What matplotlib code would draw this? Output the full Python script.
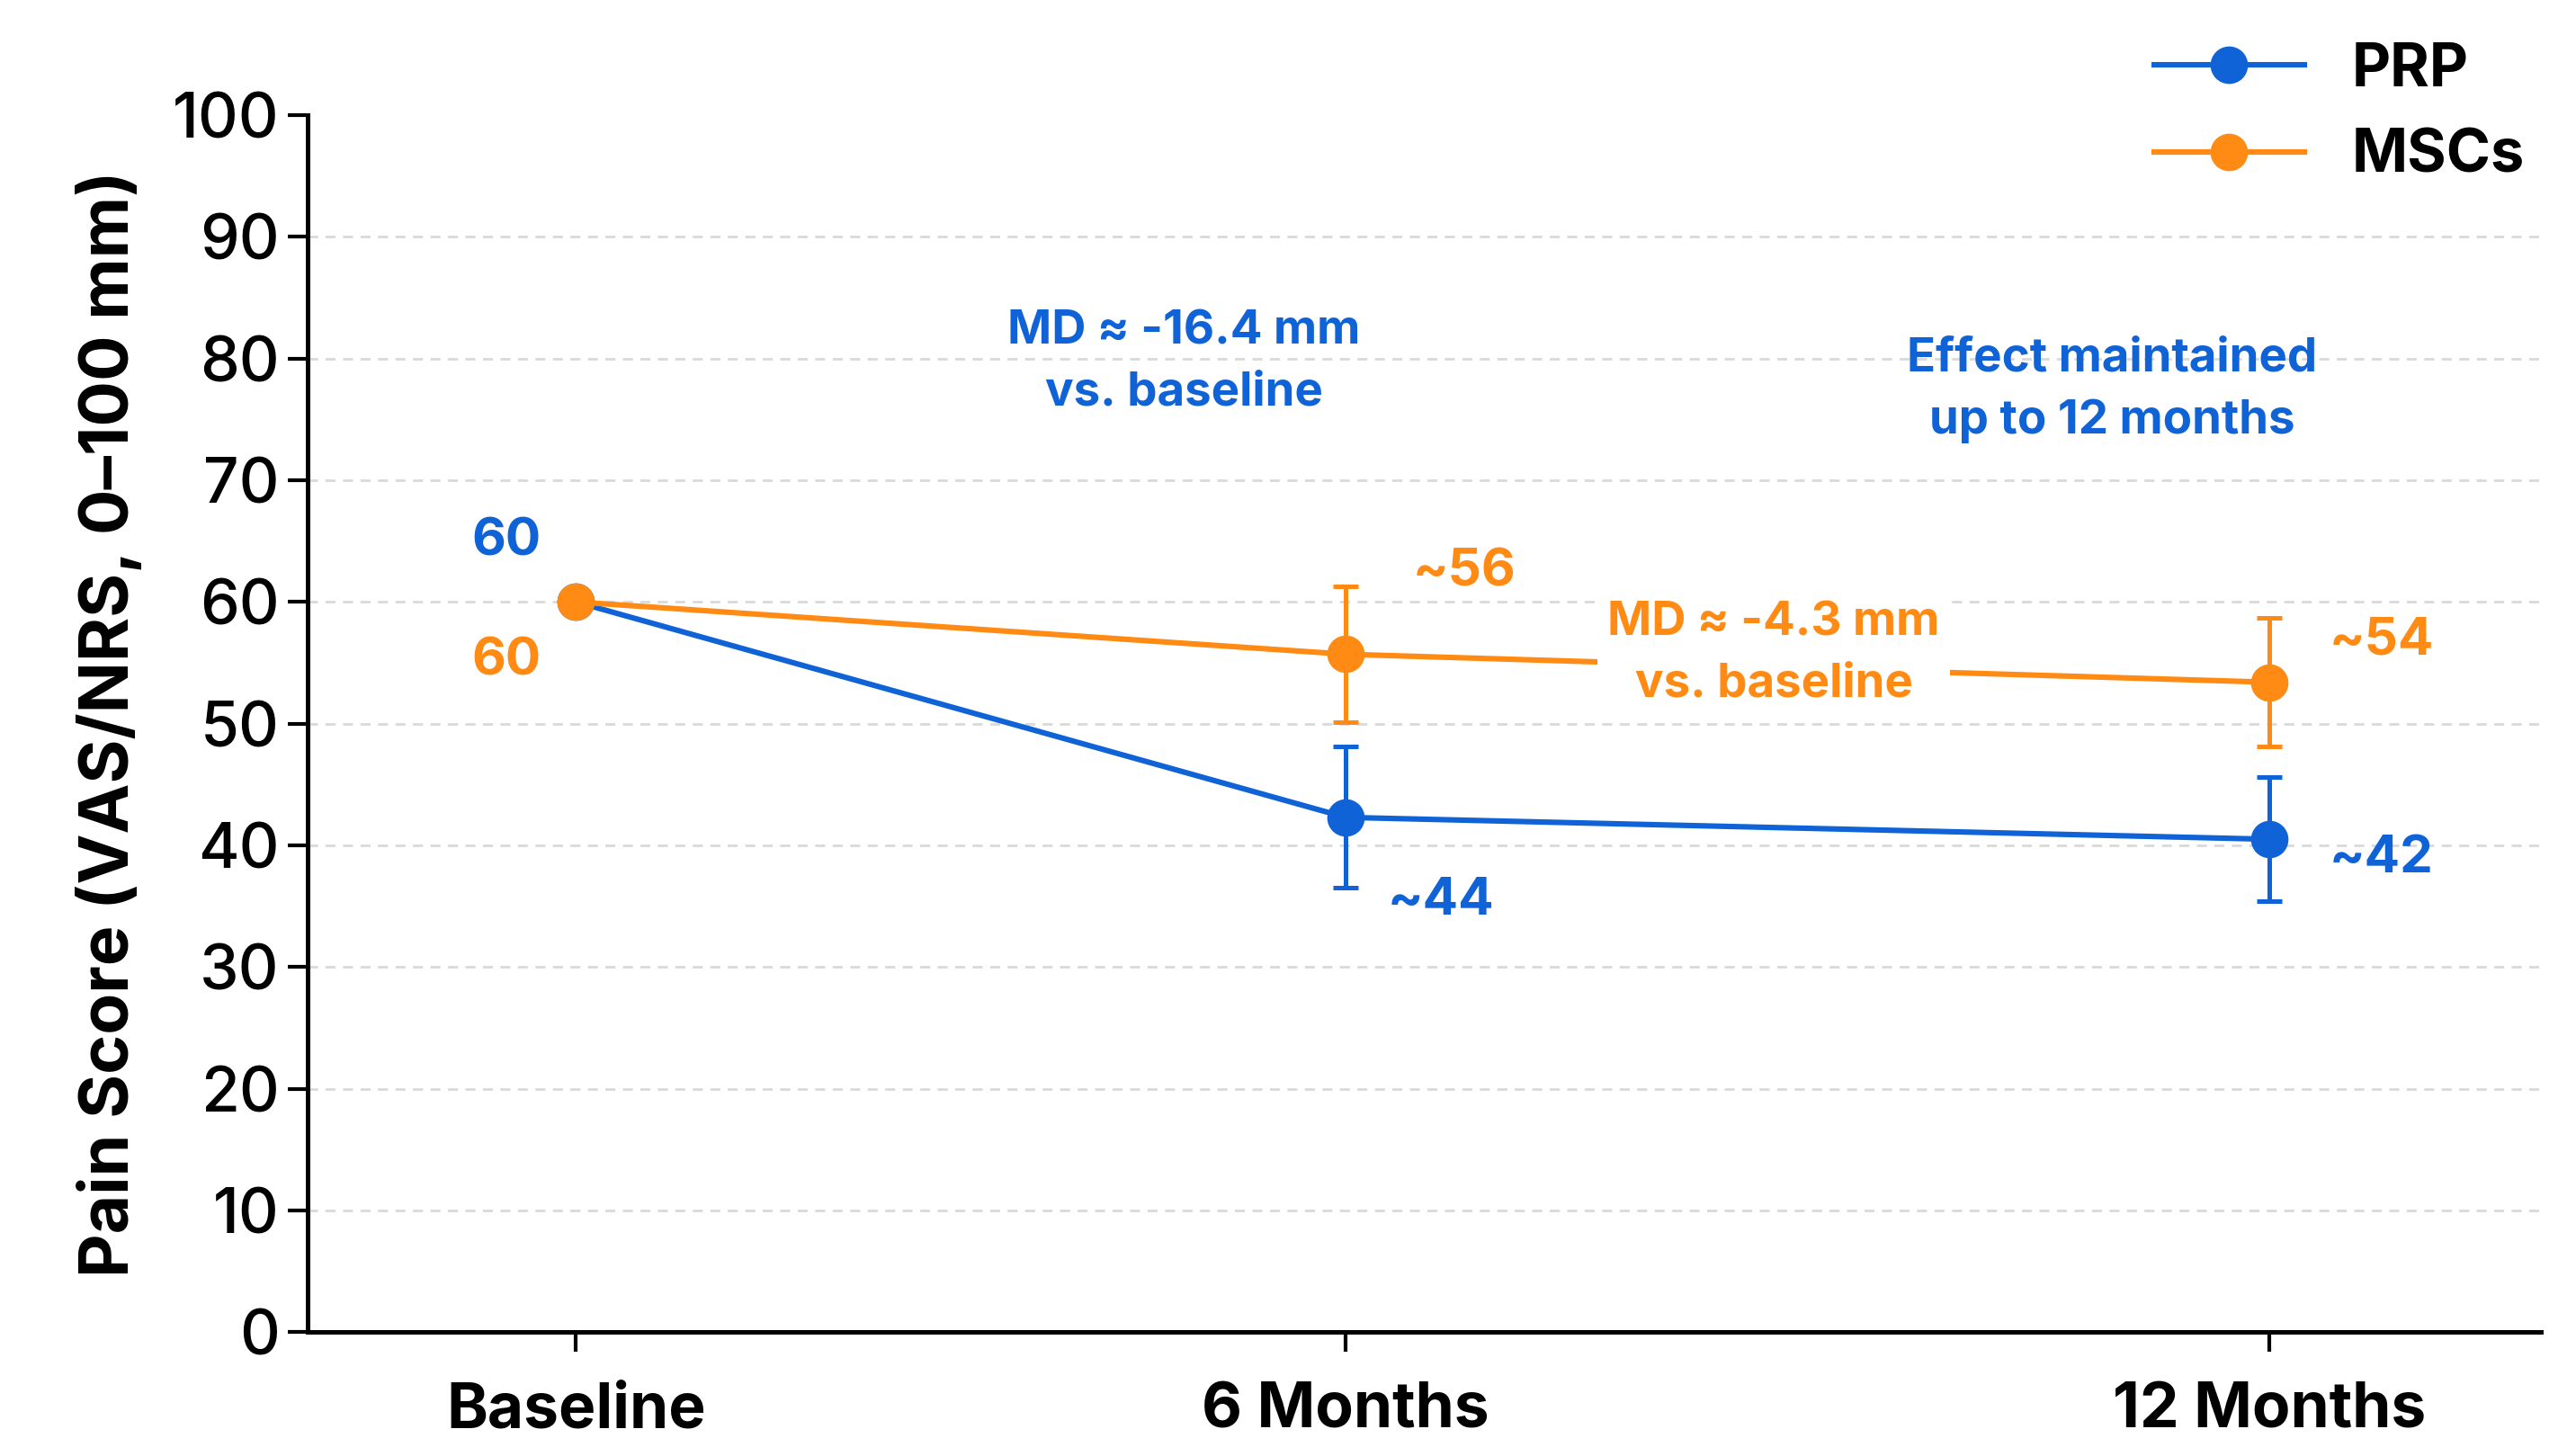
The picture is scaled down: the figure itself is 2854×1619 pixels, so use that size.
import matplotlib
matplotlib.use("Agg")
import matplotlib.pyplot as plt

plt.rcParams['font.family'] = ['Inter', 'DejaVu Sans']

categories = ['Baseline', '6 Months', '12 Months']
x_pos = [0, 1, 2.2]
prp = [60, 42.3, 40.5]
prp_err = [0, 5.8, 5.1]
msc = [60, 55.7, 53.4]
msc_err = [0, 5.6, 5.3]

BLUE = '#0f63d6'
ORANGE = '#ff8a14'

fig = plt.figure(figsize=(14.27, 8.095), dpi=200)
ax = fig.add_axes([0.12, 0.085, 0.87, 0.836])

ax.errorbar(x_pos[1:], prp[1:], yerr=prp_err[1:], fmt='none', ecolor=BLUE, elinewidth=1.8, capsize=5, capthick=1.8, zorder=3)
ax.errorbar(x_pos[1:], msc[1:], yerr=msc_err[1:], fmt='none', ecolor=ORANGE, elinewidth=1.8, capsize=5, capthick=1.8, zorder=3)
ax.plot(x_pos, prp, color=BLUE, lw=2.2, marker='o', ms=14, label='PRP', zorder=4)
ax.plot(x_pos, msc, color=ORANGE, lw=2.2, marker='o', ms=14, label='MSCs', zorder=4)

ax.set_xlim(-0.348, 2.553)
ax.set_ylim(0, 100)
ax.set_yticks(range(0, 101, 10))
ax.set_xticks(x_pos)
ax.set_xticklabels(categories, fontsize=25, fontweight='bold')
ax.tick_params(axis='y', labelsize=25, width=1.5, length=8)
ax.tick_params(axis='x', width=1.5, length=8, pad=12)
for lbl in ax.get_yticklabels():
    lbl.set_fontweight('medium')
for s in ['top', 'right']:
    ax.spines[s].set_visible(False)
for s in ['left', 'bottom']:
    ax.spines[s].set_linewidth(1.8)
for y in range(10, 100, 10):
    ax.axhline(y, color='#d9d9d9', lw=1, ls=(0, (4, 3)), zorder=0)
ax.set_ylabel('Pain Score (VAS/NRS, 0–100 mm)', fontsize=27, fontweight='bold', labelpad=12)

kw = dict(fontsize=21, fontweight='bold', ha='center', va='center')
ax.text(-0.09, 64.9, '60', color=BLUE, **kw)
ax.text(-0.09, 55.1, '60', color=ORANGE, **kw)
ax.text(1.154, 62.4, '~56', color=ORANGE, **kw)
ax.text(1.124, 35.4, '~44', color=BLUE, **kw)
ax.text(2.345, 56.8, '~54', color=ORANGE, **kw)
ax.text(2.345, 38.9, '~42', color=BLUE, **kw)

kw2 = dict(fontsize=19, fontweight='bold', ha='center', va='center', linespacing=1.5)
ax.text(0.79, 79.7, 'MD ≈ -16.4 mm\nvs. baseline', color=BLUE, **kw2)
ax.text(1.995, 77.4, 'Effect maintained\nup to 12 months', color=BLUE, **kw2)
ax.text(1.556, 55.7, 'MD ≈ -4.3 mm\nvs. baseline', color=ORANGE, zorder=5,
        bbox=dict(facecolor='white', edgecolor='none', pad=4), **kw2)

fig.legend(loc='upper right', bbox_to_anchor=(1.0, 1.0), frameon=False,
           prop={'size': 24, 'weight': 'bold'}, handlelength=2.5, borderaxespad=0.3)

fig.savefig('out.png', dpi=200)
